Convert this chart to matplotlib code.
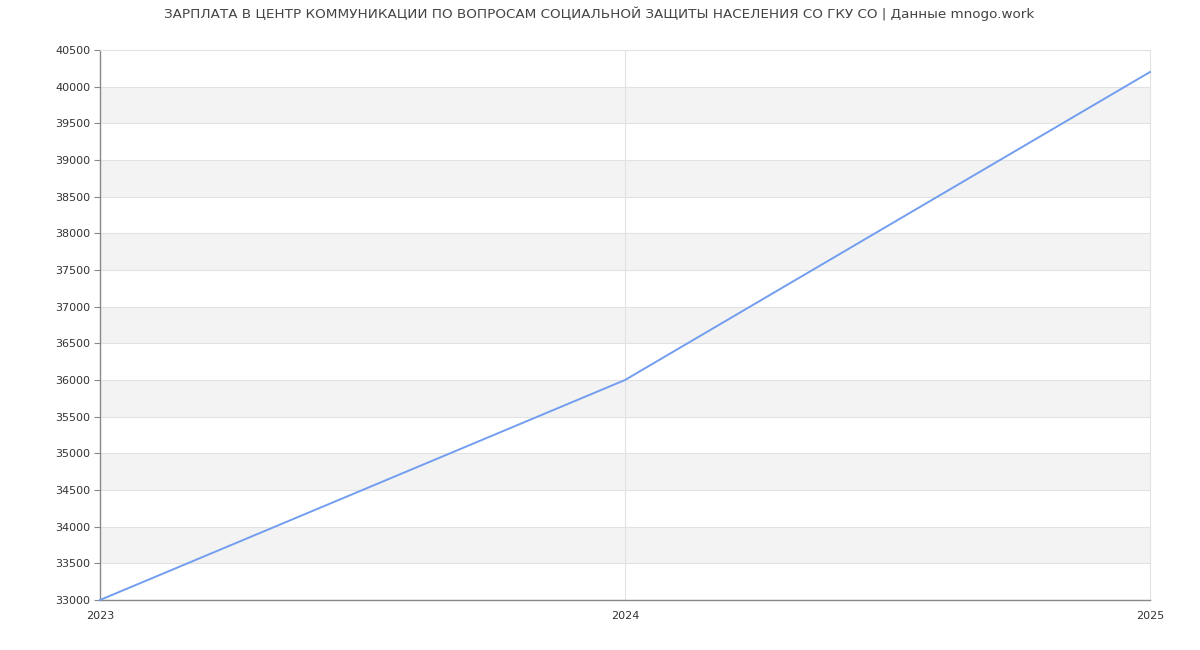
import matplotlib
matplotlib.use("Agg")
import matplotlib.pyplot as plt

years = [2023, 2024, 2025]
salary = [33000, 36000, 40200]
y_ticks = list(range(33000, 40501, 500))
title = "ЗАРПЛАТА В ЦЕНТР КОММУНИКАЦИИ ПО ВОПРОСАМ СОЦИАЛЬНОЙ ЗАЩИТЫ НАСЕЛЕНИЯ СО ГКУ СО | Данные mnogo.work"

W, H = 1200, 650
fig = plt.figure(figsize=(W / 100, H / 100), dpi=100)
ax = fig.add_axes([100 / W, 50 / H, 1050 / W, 550 / H])

ax.set_xlim(2023, 2025)
ax.set_ylim(33000, 40500)

# alternating grey bands
for lo in range(33500, 40500, 1000):
    ax.axhspan(lo, lo + 500, color="#f3f3f3", zorder=0, lw=0)

for t in y_ticks:
    ax.axhline(t, color="#e2e2e2", lw=0.8, zorder=1)
ax.axvline(2024, color="#e2e2e2", lw=0.8, zorder=1)

ax.plot(years, salary, color="#739ef0", lw=1.4, zorder=3, clip_on=False)

ax.set_yticks(y_ticks)
ax.set_yticklabels([str(t) for t in y_ticks], fontsize=8, color="#333333")
ax.set_xticks(years)
ax.set_xticklabels([str(y) for y in years], fontsize=8, color="#333333")
ax.tick_params(axis="y", length=4, color="#888888", pad=3)
ax.tick_params(axis="x", length=0, pad=8)

for side in ["top", "right"]:
    ax.spines[side].set_color("#e2e2e2")
    ax.spines[side].set_linewidth(0.8)
for side in ["left", "bottom"]:
    ax.spines[side].set_color("#888888")
    ax.spines[side].set_linewidth(1.0)

fig.text(0.499, 1 - 14 / H, title, ha="center", va="center", fontsize=9.7, color="#444444")

fig.savefig("out.png", dpi=100, facecolor="white")
